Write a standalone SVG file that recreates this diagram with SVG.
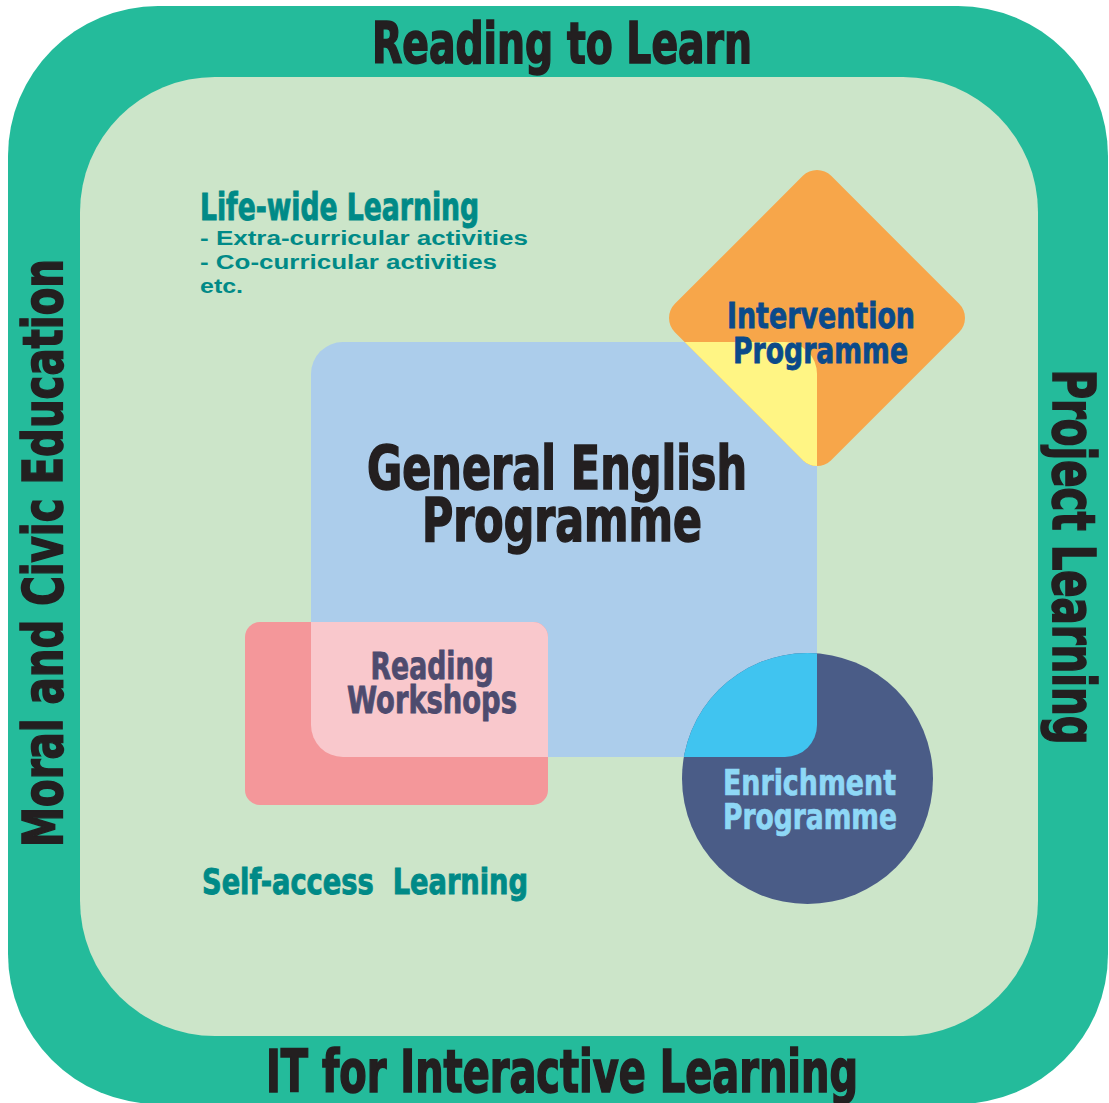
<svg xmlns="http://www.w3.org/2000/svg" width="1109" height="1103" viewBox="0 0 1109 1103">
<style>
.h{font-family:"Liberation Sans Narrow","DejaVu Sans Condensed","Liberation Sans",sans-serif;font-weight:bold;}
.dark{fill:#231F20;stroke:#231F20;stroke-width:1.6;}
.teal{fill:#008A87;stroke:#008A87;stroke-width:0.9;}
.small{font-family:"Liberation Sans",Arial,sans-serif;font-weight:bold;font-size:20px;fill:#008A87;}
</style>
<defs>
<rect id="gepShape" x="311" y="342" width="506" height="415" rx="32"/>
<clipPath id="clipRW"><rect x="245" y="622" width="303" height="183" rx="15"/></clipPath>
<clipPath id="clipIP"><rect x="-110.5" y="-110.5" width="221" height="221" rx="20" transform="translate(817,318) rotate(45)"/></clipPath>
<clipPath id="clipEP"><circle cx="807.5" cy="778.5" r="125.5"/></clipPath>
</defs>
<g id="frame">
<rect x="8" y="6" width="1100" height="1098" rx="150" fill="#24BB9B"/>
<rect x="80" y="77" width="958" height="959" rx="135" fill="#CCE5C9"/>
<text class="h dark" x="562" y="63" font-size="57" text-anchor="middle" textLength="380" lengthAdjust="spacingAndGlyphs">Reading to Learn</text>
<text class="h dark" x="266" y="1092" font-size="58" textLength="592" lengthAdjust="spacingAndGlyphs">IT for Interactive Learning</text>
<text class="h dark" transform="translate(62,553) rotate(-90)" x="0" y="0" font-size="56" text-anchor="middle" textLength="588" lengthAdjust="spacingAndGlyphs">Moral and Civic Education</text>
<text class="h dark" transform="translate(1053,557) rotate(90)" x="0" y="0" font-size="58" text-anchor="middle" textLength="375" lengthAdjust="spacingAndGlyphs">Project Learning</text>
</g>
<g id="life-wide">
<text class="h teal" x="200" y="220" font-size="37" textLength="279" lengthAdjust="spacingAndGlyphs">Life-wide Learning</text>
<text class="small" x="200" y="245" textLength="328" lengthAdjust="spacingAndGlyphs">- Extra-curricular activities</text>
<text class="small" x="200" y="269" textLength="297" lengthAdjust="spacingAndGlyphs">- Co-curricular activities</text>
<text class="small" x="200" y="293" textLength="43" lengthAdjust="spacingAndGlyphs">etc.</text>
</g>
<g id="self-access">
<text class="h teal" x="202" y="894" font-size="36" textLength="326" lengthAdjust="spacingAndGlyphs" style="white-space:pre">Self-access  Learning</text>
</g>
<g id="general-english">
<use href="#gepShape" fill="#ACCDEB"/>
</g>
<g id="reading-workshops">
<rect x="245" y="622" width="303" height="183" rx="15" fill="#F4979A"/>
<use href="#gepShape" fill="#F9C8CC" clip-path="url(#clipRW)"/>
<text class="h" x="432" y="679" font-size="37" fill="#4E4B6E" stroke="#4E4B6E" stroke-width="0.8" text-anchor="middle" textLength="123" lengthAdjust="spacingAndGlyphs">Reading</text>
<text class="h" x="432" y="713" font-size="37" fill="#4E4B6E" stroke="#4E4B6E" stroke-width="0.8" text-anchor="middle" textLength="170" lengthAdjust="spacingAndGlyphs">Workshops</text>
</g>
<g id="intervention">
<rect x="-110.5" y="-110.5" width="221" height="221" rx="20" transform="translate(817,318) rotate(45)" fill="#F7A64A"/>
<use href="#gepShape" fill="#FFF584" clip-path="url(#clipIP)"/>
<text class="h" x="821" y="328" font-size="36" fill="#0B4A8A" stroke="#0B4A8A" stroke-width="0.8" text-anchor="middle" textLength="188" lengthAdjust="spacingAndGlyphs">Intervention</text>
<text class="h" x="820.5" y="363" font-size="36" fill="#0B4A8A" stroke="#0B4A8A" stroke-width="0.8" text-anchor="middle" textLength="175" lengthAdjust="spacingAndGlyphs">Programme</text>
</g>
<g id="enrichment">
<circle cx="807.5" cy="778.5" r="125.5" fill="#4A5C87"/>
<use href="#gepShape" fill="#40C4F0" clip-path="url(#clipEP)"/>
<text class="h" x="809.5" y="795" font-size="35" fill="#8ED8F6" stroke="#8ED8F6" stroke-width="0.7" text-anchor="middle" textLength="173" lengthAdjust="spacingAndGlyphs">Enrichment</text>
<text class="h" x="810" y="829" font-size="35" fill="#8ED8F6" stroke="#8ED8F6" stroke-width="0.7" text-anchor="middle" textLength="174" lengthAdjust="spacingAndGlyphs">Programme</text>
</g>
<g id="general-english-label">
<text class="h dark" x="557" y="489" font-size="61" text-anchor="middle" textLength="380" lengthAdjust="spacingAndGlyphs">General English</text>
<text class="h dark" x="562" y="541" font-size="61" text-anchor="middle" textLength="280" lengthAdjust="spacingAndGlyphs">Programme</text>
</g>
<g id="connectors"/>
</svg>
